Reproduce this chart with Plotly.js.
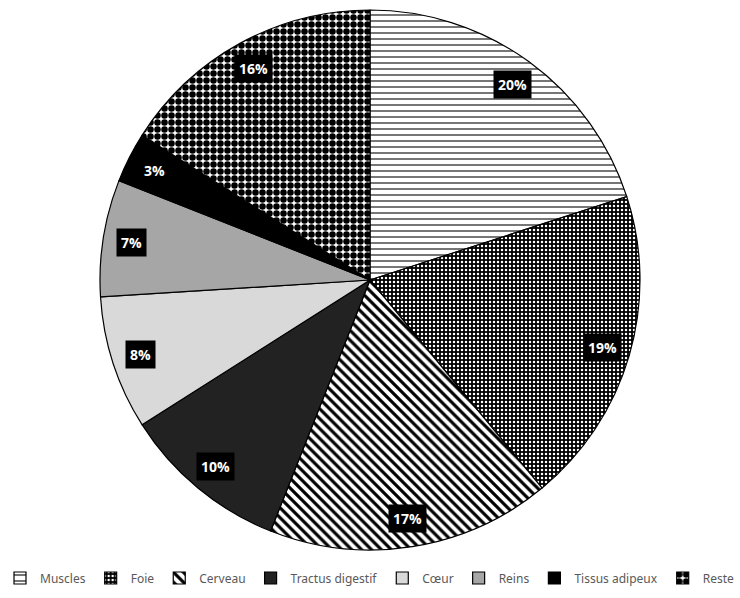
<!DOCTYPE html>
<html>
<head>
<meta charset="utf-8">
<script src="https://cdn.plot.ly/plotly-3.0.1.min.js"></script>
<style>html,body{margin:0;padding:0;background:#fff;}#chart{width:740px;height:598px;}</style>
</head>
<body>
<div id="chart"></div>
<script>
const labels = ["Muscles", "Foie", "Cerveau", "Tractus digestif", "Cœur", "Reins", "Tissus adipeux", "Reste"];
const values = [20, 19, 17, 10, 8, 7, 3, 16];
const fillColors = ["#ffffff", "#000000", "#ffffff", "#222222", "#d9d9d9", "#a6a6a6", "#000000", "#ffffff"];
const patternShapes = ["-", ".", "\\", "", "", "", "", "."];
const patternFg = ["#000000", "#ffffff", "#000000", "#000000", "#000000", "#000000", "#000000", "#000000"];
const patternSize = [6, 4, 7, 8, 8, 8, 8, 7];
const patternSolidity = [0.18, 0.3, 0.45, 0.3, 0.3, 0.3, 0.3, 0.68];

const W = 740, H = 598;
const cx = 370, cy = 280, R = 270;

const trace = {
  type: "pie",
  labels: labels,
  values: values,
  sort: false,
  direction: "clockwise",
  rotation: 0,
  textinfo: "none",
  hoverinfo: "label+percent",
  domain: {x: [(cx - R) / W, (cx + R) / W], y: [1 - (cy + R) / H, 1 - (cy - R) / H]},
  marker: {
    colors: fillColors,
    line: {color: "#000000", width: 1.2},
    pattern: {
      shape: patternShapes,
      fgcolor: patternFg,
      bgcolor: fillColors,
      size: patternSize,
      solidity: patternSolidity,
      fillmode: "replace"
    }
  }
};

const total = values.reduce((a, b) => a + b, 0);
const annotations = [];
let cum = 0;
values.forEach((v, i) => {
  const mid = (cum + v / 2) / total * 2 * Math.PI;
  cum += v;
  const rr = 0.895 * R;
  const px = cx + rr * Math.sin(mid);
  const py = cy - rr * Math.cos(mid);
  annotations.push({
    x: px / W, y: 1 - py / H, xref: "paper", yref: "paper",
    xanchor: "center", yanchor: "middle",
    text: "<b>" + Math.round(v / total * 100) + "%</b>",
    showarrow: false,
    bgcolor: "#000000",
    borderpad: 4,
    font: {family: "Open Sans, Noto Sans, sans-serif", size: 14, color: "#ffffff"}
  });
});

const layout = {
  width: W, height: H,
  margin: {l: 0, r: 0, t: 0, b: 0},
  paper_bgcolor: "#ffffff",
  showlegend: true,
  legend: {
    orientation: "h",
    x: 0.5, xanchor: "center",
    y: 1 - 578 / H, yanchor: "middle",
    font: {family: "Noto Sans, sans-serif", size: 12, color: "#595959"},
    itemwidth: 30,
    tracegroupgap: 0,
    traceorder: "normal"
  },
  annotations: annotations
};

Plotly.newPlot("chart", [trace], layout, {displayModeBar: false});
</script>
</body>
</html>
